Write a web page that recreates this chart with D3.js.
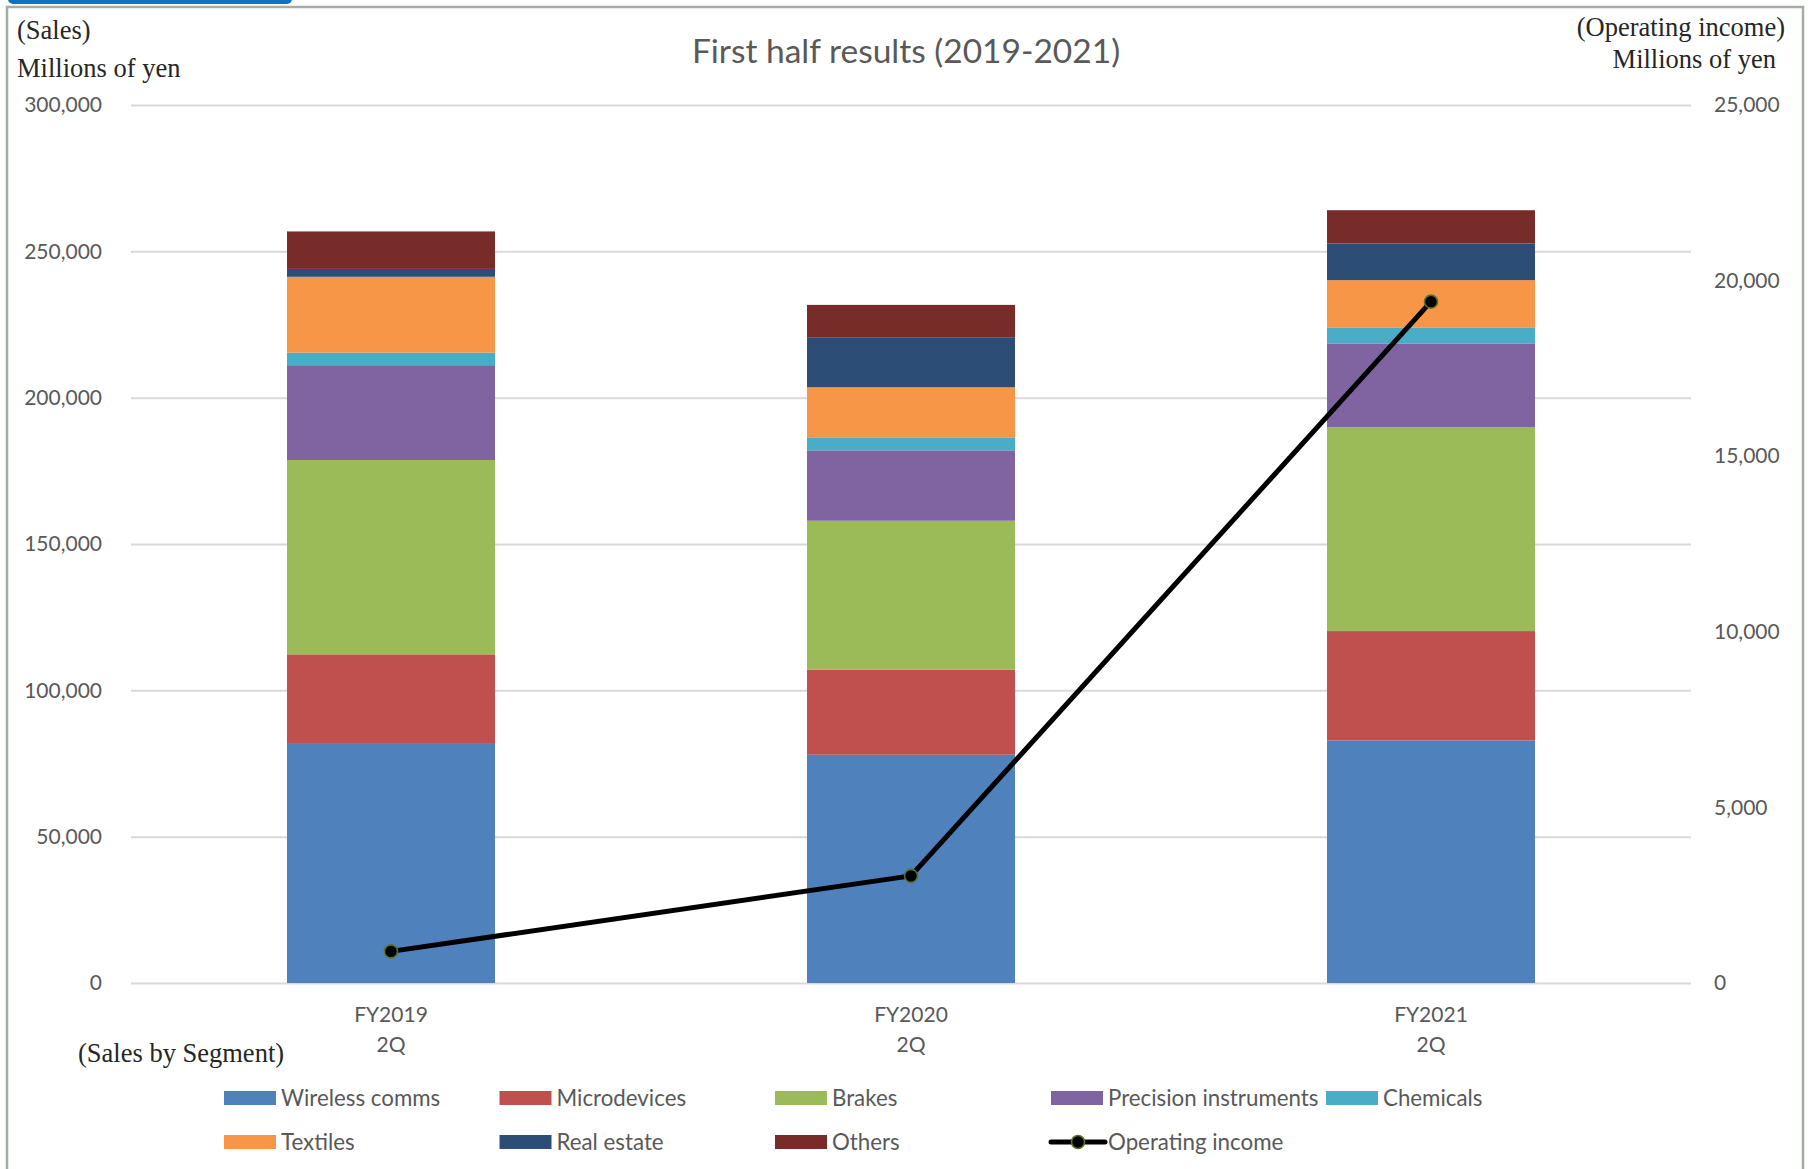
<!DOCTYPE html>
<html>
<head>
<meta charset="utf-8">
<script src="https://cdn.jsdelivr.net/npm/d3@7"></script>
<style>
  body { margin: 0; background: #fff; }
  svg { display: block; }
</style>
</head>
<body>
<svg id="chart" width="1812" height="1169"></svg>
<script>
// data (millions of yen)
const categories = ["FY2019 2Q", "FY2020 2Q", "FY2021 2Q"];
const segments = ["Wireless comms", "Microdevices", "Brakes", "Precision instruments", "Chemicals", "Textiles", "Real estate", "Others"];
const wireless = [81700, 78000, 82900];
const microdevices = [30600, 29050, 37350];
const brakes = [66400, 50900, 69700];
const precision = [32400, 24050, 28450];
const chemicals = [4300, 4450, 5450];
const textiles = [25900, 17100, 16300];
const realEstate = [2700, 17100, 12550];
const others = [12800, 11050, 11350];
const operatingIncome = [900, 3050, 19400];
const salesTicks = [0, 50000, 100000, 150000, 200000, 250000, 300000];
const incomeTicks = [0, 5000, 10000, 15000, 20000, 25000];

const colors = ["#4f81bd", "#c0504d", "#9bbb59", "#8064a2", "#4bacc6", "#f79646", "#2c4d75", "#772c2a"];
const seriesValues = [wireless, microdevices, brakes, precision, chemicals, textiles, realEstate, others];

const svg = d3.select("#chart");
const sansFont = "Lato, 'Open Sans', sans-serif";
const serifFont = "'Liberation Serif', 'DejaVu Serif', serif";

// frame and the little blue tab on top
svg.append("rect").attr("x", 7).attr("y", 7).attr("width", 1796).attr("height", 1180)
  .attr("fill", "#fff").attr("stroke", "#a3ada3").attr("stroke-width", 2.5);
svg.append("rect").attr("x", 8).attr("y", -8).attr("width", 284).attr("height", 12)
  .attr("rx", 5).attr("fill", "#0b72c4");

const plotLeft = 131, plotRight = 1691, plotTop = 105, plotBottom = 983;

// scales
const x = d3.scaleBand().domain(categories).range([plotLeft, plotRight]).paddingInner(0.6).paddingOuter(0.3);
const ySales = d3.scaleLinear().domain([0, 300000]).range([plotBottom, plotTop]);
const yIncome = d3.scaleLinear().domain([0, 25000]).range([plotBottom, plotTop]);

// gridlines
svg.append("g")
  .attr("transform", `translate(${plotLeft},0)`)
  .call(d3.axisLeft(ySales).tickValues(salesTicks).tickSize(-(plotRight - plotLeft)).tickFormat(""))
  .call(g => g.select(".domain").remove())
  .call(g => g.selectAll("line").attr("stroke", "#d9d9d9").attr("stroke-width", 2));

// left axis labels
svg.append("g")
  .attr("transform", `translate(${plotLeft},0)`)
  .call(d3.axisLeft(ySales).tickValues(salesTicks).tickSize(0).tickPadding(29).tickFormat(d3.format(",")))
  .call(g => g.select(".domain").remove())
  .call(g => g.selectAll("text").attr("fill", "#595959").style("font", `21px ${sansFont}`));

// right axis labels
svg.append("g")
  .attr("transform", `translate(${plotRight},0)`)
  .call(d3.axisRight(yIncome).tickValues(incomeTicks).tickSize(0).tickPadding(23).tickFormat(d3.format(",")))
  .call(g => g.select(".domain").remove())
  .call(g => g.selectAll("text").attr("fill", "#595959").style("font", `21px ${sansFont}`));

// stacked bars
const rows = categories.map((c, i) => {
  const r = { category: c };
  segments.forEach((s, j) => { r[s] = seriesValues[j][i]; });
  return r;
});
const stacked = d3.stack().keys(segments)(rows);

svg.append("g").selectAll("g")
  .data(stacked)
  .join("g")
  .attr("fill", (d, i) => colors[i])
  .selectAll("rect")
  .data(d => d)
  .join("rect")
  .attr("x", d => x(d.data.category))
  .attr("y", d => ySales(d[1]))
  .attr("width", x.bandwidth())
  .attr("height", d => ySales(d[0]) - ySales(d[1]));

// operating income line
const cx = (d, i) => x(categories[i]) + x.bandwidth() / 2;
svg.append("path")
  .datum(operatingIncome)
  .attr("fill", "none")
  .attr("stroke", "#000")
  .attr("stroke-width", 5)
  .attr("stroke-linejoin", "round")
  .attr("d", d3.line().x(cx).y(d => yIncome(d)));

svg.append("g").selectAll("circle")
  .data(operatingIncome)
  .join("circle")
  .attr("cx", cx)
  .attr("cy", d => yIncome(d))
  .attr("r", 6.5)
  .attr("fill", "#000")
  .attr("stroke", "#5b7028")
  .attr("stroke-width", 1.6);

// category labels (two lines)
const catLabels = svg.append("g").selectAll("text")
  .data(categories)
  .join("text")
  .attr("x", d => x(d) + x.bandwidth() / 2)
  .attr("text-anchor", "middle")
  .attr("fill", "#595959")
  .style("font", `21px ${sansFont}`);
catLabels.append("tspan").attr("x", d => x(d) + x.bandwidth() / 2).attr("y", 1022).text(d => d.split(" ")[0]);
catLabels.append("tspan").attr("x", d => x(d) + x.bandwidth() / 2).attr("y", 1052).text(d => d.split(" ")[1]);

// title
svg.append("text").attr("x", 906).attr("y", 63).attr("text-anchor", "middle")
  .attr("fill", "#595959").style("font", `33.5px ${sansFont}`)
  .text("First half results (2019-2021)");

// axis notes
const note = (t, xx, yy, anchor) => svg.append("text").attr("x", xx).attr("y", yy)
  .attr("text-anchor", anchor).attr("fill", "#262626").style("font", `26.5px ${serifFont}`).text(t);
note("(Sales)", 17, 39, "start");
note("Millions of yen", 17, 77, "start");
note("(Operating income)", 1785, 36, "end");
note("Millions of yen", 1776, 68, "end");
note("(Sales by Segment)", 78, 1062, "start");

// legend
const legendItems = segments.map((s, i) => ({ name: s, color: colors[i], type: "bar" }))
  .concat([{ name: "Operating income", type: "line" }]);
const legendPos = [[224, 1098], [499.5, 1098], [775, 1098], [1051, 1098], [1326, 1098],
                   [224, 1142], [499.5, 1142], [775, 1142], [1051, 1142]];

const legend = svg.append("g").selectAll("g")
  .data(legendItems)
  .join("g")
  .attr("transform", (d, i) => `translate(${legendPos[i][0]},${legendPos[i][1]})`);

legend.filter(d => d.type === "bar").append("rect")
  .attr("x", 0).attr("y", -7).attr("width", 52).attr("height", 14)
  .attr("fill", d => d.color);

const lineItem = legend.filter(d => d.type === "line");
lineItem.append("line").attr("x1", 0).attr("x2", 54).attr("y1", 0).attr("y2", 0)
  .attr("stroke", "#000").attr("stroke-width", 5).attr("stroke-linecap", "round");
lineItem.append("circle").attr("cx", 27).attr("cy", 0).attr("r", 6.5)
  .attr("fill", "#000").attr("stroke", "#5b7028").attr("stroke-width", 1.6);

legend.append("text")
  .attr("x", 57).attr("y", 0).attr("dy", "0.35em")
  .attr("fill", "#595959").style("font", `22.3px ${sansFont}`)
  .text(d => d.name);
</script>
</body>
</html>
